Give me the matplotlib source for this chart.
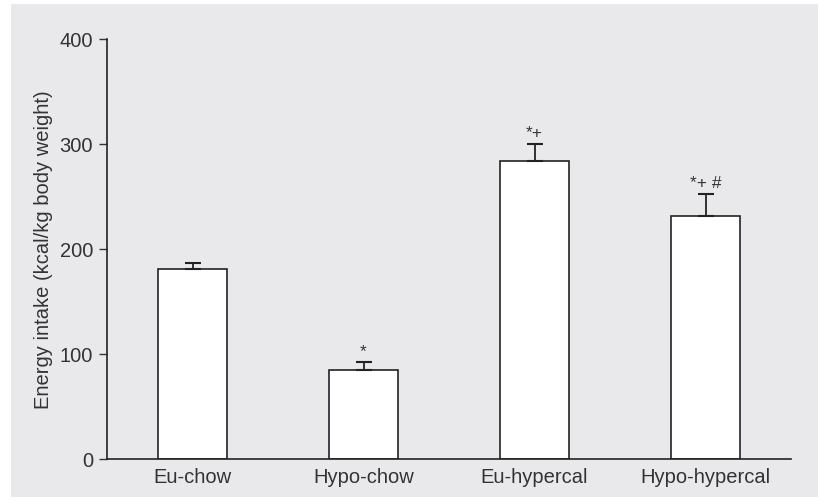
import matplotlib.pyplot as plt
from matplotlib.patches import Rectangle

# datos
grupos = ['Eu-chow', 'Hypo-chow', 'Eu-hypercal', 'Hypo-hypercal']
energia = [181, 85, 284, 231]
error = [6, 7, 16, 21]
marcas = ['', '*', '*+', '*+ #']

plt.rcParams['font.family'] = ['Liberation Sans', 'DejaVu Sans']

fig = plt.figure(figsize=(8.19, 5.02), dpi=100)
# panel gris de fondo
fig.patches.append(Rectangle((11 / 819, 4 / 502), 807 / 819, 493 / 502,
                             transform=fig.transFigure, facecolor='#e9e9eb',
                             edgecolor='none', zorder=-10))

ax = fig.add_axes([107 / 819, 42 / 502, 684 / 819, 420 / 502])
ax.set_facecolor('none')
ax.set_zorder(1)

x = range(len(grupos))
ax.bar(x, energia, width=0.4, color='white', edgecolor='#222222', linewidth=1.2, zorder=2)
ax.errorbar(x, energia, yerr=[[0] * len(error), error], fmt='none', ecolor='#222222',
            elinewidth=1.3, capsize=6, capthick=1.5, zorder=3)

for i in x:
    if marcas[i]:
        ax.text(i, energia[i] + error[i] + 4, marcas[i], ha='center', va='bottom',
                fontsize=12.5, color='#333333')

ax.set_xlim(-0.5, 3.5)
ax.set_ylim(0, 400)
ax.set_yticks([0, 100, 200, 300, 400])
ax.set_xticks(list(x))
ax.set_xticklabels(grupos)
ax.tick_params(axis='x', length=0, pad=6, labelsize=14.5, labelcolor='#333333')
ax.tick_params(axis='y', length=6, width=1, color='#333333', pad=4, labelsize=14.5,
               labelcolor='#333333')
ax.set_ylabel('Energy intake (kcal/kg body weight)', fontsize=14.5, color='#333333', labelpad=5)

for lado in ['top', 'right']:
    ax.spines[lado].set_visible(False)
for lado in ['left', 'bottom']:
    ax.spines[lado].set_color('#222222')
    ax.spines[lado].set_linewidth(1.2)

fig.savefig('out.png', dpi=100)
